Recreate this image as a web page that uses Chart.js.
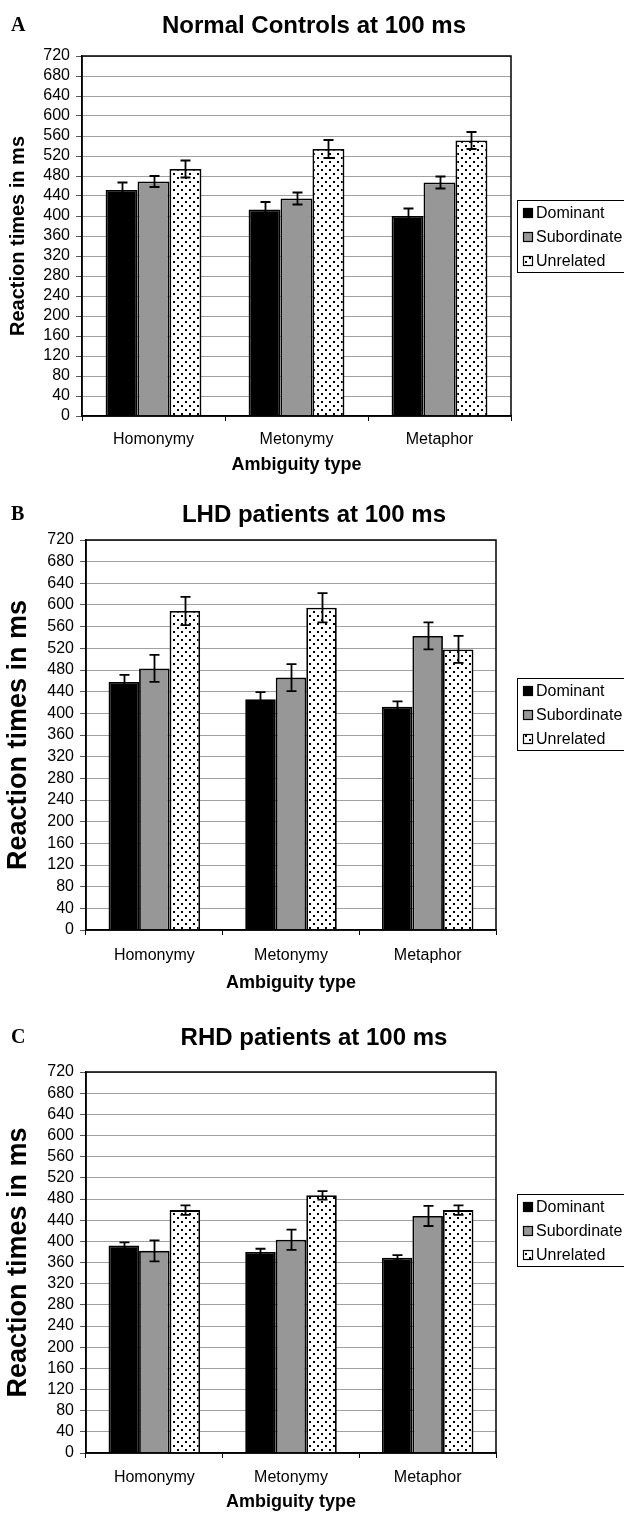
<!DOCTYPE html>
<html>
<head>
<meta charset="utf-8">
<script src="https://cdn.jsdelivr.net/npm/chart.js@4.4.1/dist/chart.umd.min.js"></script>
<style>
  html, body { margin: 0; padding: 0; background: #fff; }
  .panel { position: absolute; left: 0; width: 624px; }
</style>
</head>
<body>
<div class="panel" style="top:0px;height:490px"><canvas id="chartA" width="624" height="490"></canvas></div>
<div class="panel" style="top:490px;height:510px"><canvas id="chartB" width="624" height="510"></canvas></div>
<div class="panel" style="top:1000px;height:514px"><canvas id="chartC" width="624" height="514"></canvas></div>

<script>
// ==========================
// DATA
// ==========================
const categories = ["Homonymy", "Metonymy", "Metaphor"];
const seriesNames = ["Dominant", "Subordinate", "Unrelated"];
const yMin = 0;
const yMax = 720;
const yStep = 40;

// A - Normal controls
const normalDominant = [452, 413, 400];
const normalDominantErr = [15, 15, 15];
const normalSubordinate = [469, 435, 467];
const normalSubordinateErr = [11, 12, 12];
const normalUnrelated = [494, 534, 551];
const normalUnrelatedErr = [17, 18, 17];

// B - LHD patients
const lhdDominant = [458, 426, 412];
const lhdDominantErr = [13, 13, 10];
const lhdSubordinate = [483, 466, 543];
const lhdSubordinateErr = [25, 25, 25];
const lhdUnrelated = [589, 595, 518];
const lhdUnrelatedErr = [26, 27, 25];

// C - RHD patients
const rhdDominant = [392, 380, 369];
const rhdDominantErr = [6, 6, 5];
const rhdSubordinate = [382, 403, 448];
const rhdSubordinateErr = [20, 19, 19];
const rhdUnrelated = [459, 487, 459];
const rhdUnrelatedErr = [9, 8, 9];

// ==========================
// STYLE HELPERS
// ==========================
const FONT = "'Liberation Sans', Arial, Helvetica, sans-serif";

function dotPattern() {
  const c = document.createElement("canvas");
  c.width = 8;
  c.height = 8;
  const g = c.getContext("2d");
  g.fillStyle = "#fff";
  g.fillRect(0, 0, 8, 8);
  g.fillStyle = "#000";
  g.fillRect(1, 1, 2, 2);
  g.fillRect(5, 5, 2, 2);
  return g.createPattern(c, "repeat");
}
const dots = dotPattern();
const fills = ["#000000", "#979797", dots];

// error bars, border, title, letter and legend
const decorPlugin = {
  id: "decor",
  afterDatasetsDraw(chart, args, opts) {
    const ctx = chart.ctx;
    const y = chart.scales.y;
    ctx.save();
    ctx.strokeStyle = "#000";
    ctx.lineWidth = 1.8;
    chart.data.datasets.forEach((ds, i) => {
      const meta = chart.getDatasetMeta(i);
      const errs = opts.errors[i];
      meta.data.forEach((bar, j) => {
        const v = ds.data[j];
        const top = y.getPixelForValue(v + errs[j]);
        const bot = y.getPixelForValue(v - errs[j]);
        const x = Math.round(bar.x) + 0.5;
        ctx.beginPath();
        ctx.moveTo(x, top);
        ctx.lineTo(x, bot);
        ctx.moveTo(x - 5, top);
        ctx.lineTo(x + 5, top);
        ctx.moveTo(x - 5, bot);
        ctx.lineTo(x + 5, bot);
        ctx.stroke();
      });
    });
    ctx.restore();
  },
  afterDraw(chart, args, opts) {
    const ctx = chart.ctx;
    const a = chart.chartArea;
    ctx.save();
    // plot border
    ctx.strokeStyle = "#000";
    ctx.lineWidth = 1.5;
    ctx.strokeRect(a.left, a.top, a.right - a.left, a.bottom - a.top);

    // panel letter
    ctx.fillStyle = "#000";
    ctx.textBaseline = "middle";
    ctx.textAlign = "left";
    ctx.font = "bold 20px 'Liberation Serif', 'Times New Roman', serif";
    ctx.fillText(opts.letter, 11, opts.titleY);

    // title
    ctx.textAlign = "center";
    ctx.font = "bold 24px " + FONT;
    ctx.fillText(opts.title, 314, opts.titleY);

    // legend
    const lx = 517.5;
    const ly = opts.legendTop + 0.5;
    ctx.lineWidth = 1;
    ctx.strokeRect(lx, ly, 130, 72);
    ctx.font = "16px " + FONT;
    ctx.textAlign = "left";
    chart.data.datasets.forEach((ds, i) => {
      const cy = opts.legendTop + 13 + i * 24;
      ctx.fillStyle = ds.backgroundColor;
      ctx.fillRect(523, cy - 5, 10, 10);
      ctx.strokeStyle = "#000";
      ctx.lineWidth = 1.2;
      ctx.strokeRect(523.5, cy - 4.5, 9, 9);
      ctx.fillStyle = "#000";
      ctx.fillText(ds.label, 536, cy + 1);
    });
    ctx.restore();
  },
};

// ==========================
// CHART BUILDER
// ==========================
function buildChart(id, cfg) {
  const values = [cfg.dominant, cfg.subordinate, cfg.unrelated];
  const canvas = document.getElementById(id);
  const H = canvas.height;

  return new Chart(canvas, {
    type: "bar",
    data: {
      labels: categories,
      datasets: seriesNames.map((name, i) => ({
        label: name,
        data: values[i],
        backgroundColor: fills[i],
        borderColor: "#000",
        borderWidth: 1.8,
        categoryPercentage: 0.67,
        barPercentage: 1.0,
      })),
    },
    options: {
      responsive: false,
      animation: false,
      devicePixelRatio: 1,
      layout: {
        padding: { left: 0, top: cfg.plotTop, right: 624 - cfg.plotRight, bottom: 0 },
      },
      plugins: {
        legend: { display: false },
        title: { display: false },
        tooltip: { enabled: false },
        decor: {
          letter: cfg.letter,
          title: cfg.title,
          titleY: cfg.titleY,
          legendTop: cfg.legendTop,
          errors: cfg.errors,
        },
      },
      scales: {
        x: {
          offset: true,
          grid: {
            display: true,
            offset: true,
            drawOnChartArea: false,
            drawTicks: true,
            tickLength: 5,
            tickColor: "#000",
          },
          border: { display: true, color: "#000", width: 1.5 },
          ticks: { color: "#000", font: { family: FONT, size: 16 }, padding: cfg.xTickPad },
          title: {
            display: true,
            text: "Ambiguity type",
            color: "#000",
            font: { family: FONT, size: 18, weight: "bold" },
            padding: { top: 0, bottom: cfg.xTitlePad },
          },
          afterFit(scale) {
            scale.height = H - cfg.plotBottom;
          },
        },
        y: {
          min: yMin,
          max: yMax,
          grid: {
            color: "#a0a0a0",
            lineWidth: 1,
            tickLength: 6,
            tickColor: "#555",
          },
          border: { display: true, color: "#000", width: 1.5 },
          ticks: {
            stepSize: yStep,
            autoSkip: false,
            color: "#000",
            font: { family: FONT, size: cfg.yTickSize },
            padding: 6,
          },
          title: {
            display: true,
            text: "Reaction times in ms",
            color: "#000",
            font: { family: FONT, size: cfg.yTitleSize, weight: "bold" },
            padding: { top: cfg.yTitlePad, bottom: 0 },
          },
          afterFit(scale) {
            scale.width = cfg.plotLeft;
          },
        },
      },
    },
    plugins: [decorPlugin],
  });
}

// ==========================
// PANELS
// ==========================
buildChart("chartA", {
  letter: "A",
  title: "Normal Controls at 100 ms",
  dominant: normalDominant,
  subordinate: normalSubordinate,
  unrelated: normalUnrelated,
  errors: [normalDominantErr, normalSubordinateErr, normalUnrelatedErr],
  plotLeft: 82, plotRight: 511, plotTop: 56, plotBottom: 416,
  titleY: 26, legendTop: 200,
  yTickSize: 16, yTitleSize: 20, yTitlePad: 6,
  xTickPad: 9, xTitlePad: 14,
});

buildChart("chartB", {
  letter: "B",
  title: "LHD patients at 100 ms",
  dominant: lhdDominant,
  subordinate: lhdSubordinate,
  unrelated: lhdUnrelated,
  errors: [lhdDominantErr, lhdSubordinateErr, lhdUnrelatedErr],
  plotLeft: 86, plotRight: 496, plotTop: 50, plotBottom: 440,
  titleY: 25, legendTop: 188,
  yTickSize: 16, yTitleSize: 27, yTitlePad: 2,
  xTickPad: 11, xTitlePad: 6,
});

buildChart("chartC", {
  letter: "C",
  title: "RHD patients at 100 ms",
  dominant: rhdDominant,
  subordinate: rhdSubordinate,
  unrelated: rhdUnrelated,
  errors: [rhdDominantErr, rhdSubordinateErr, rhdUnrelatedErr],
  plotLeft: 86, plotRight: 496, plotTop: 72, plotBottom: 453,
  titleY: 38, legendTop: 194,
  yTickSize: 16, yTitleSize: 27, yTitlePad: 2,
  xTickPad: 10, xTitlePad: 1,
});
</script>
</body>
</html>
